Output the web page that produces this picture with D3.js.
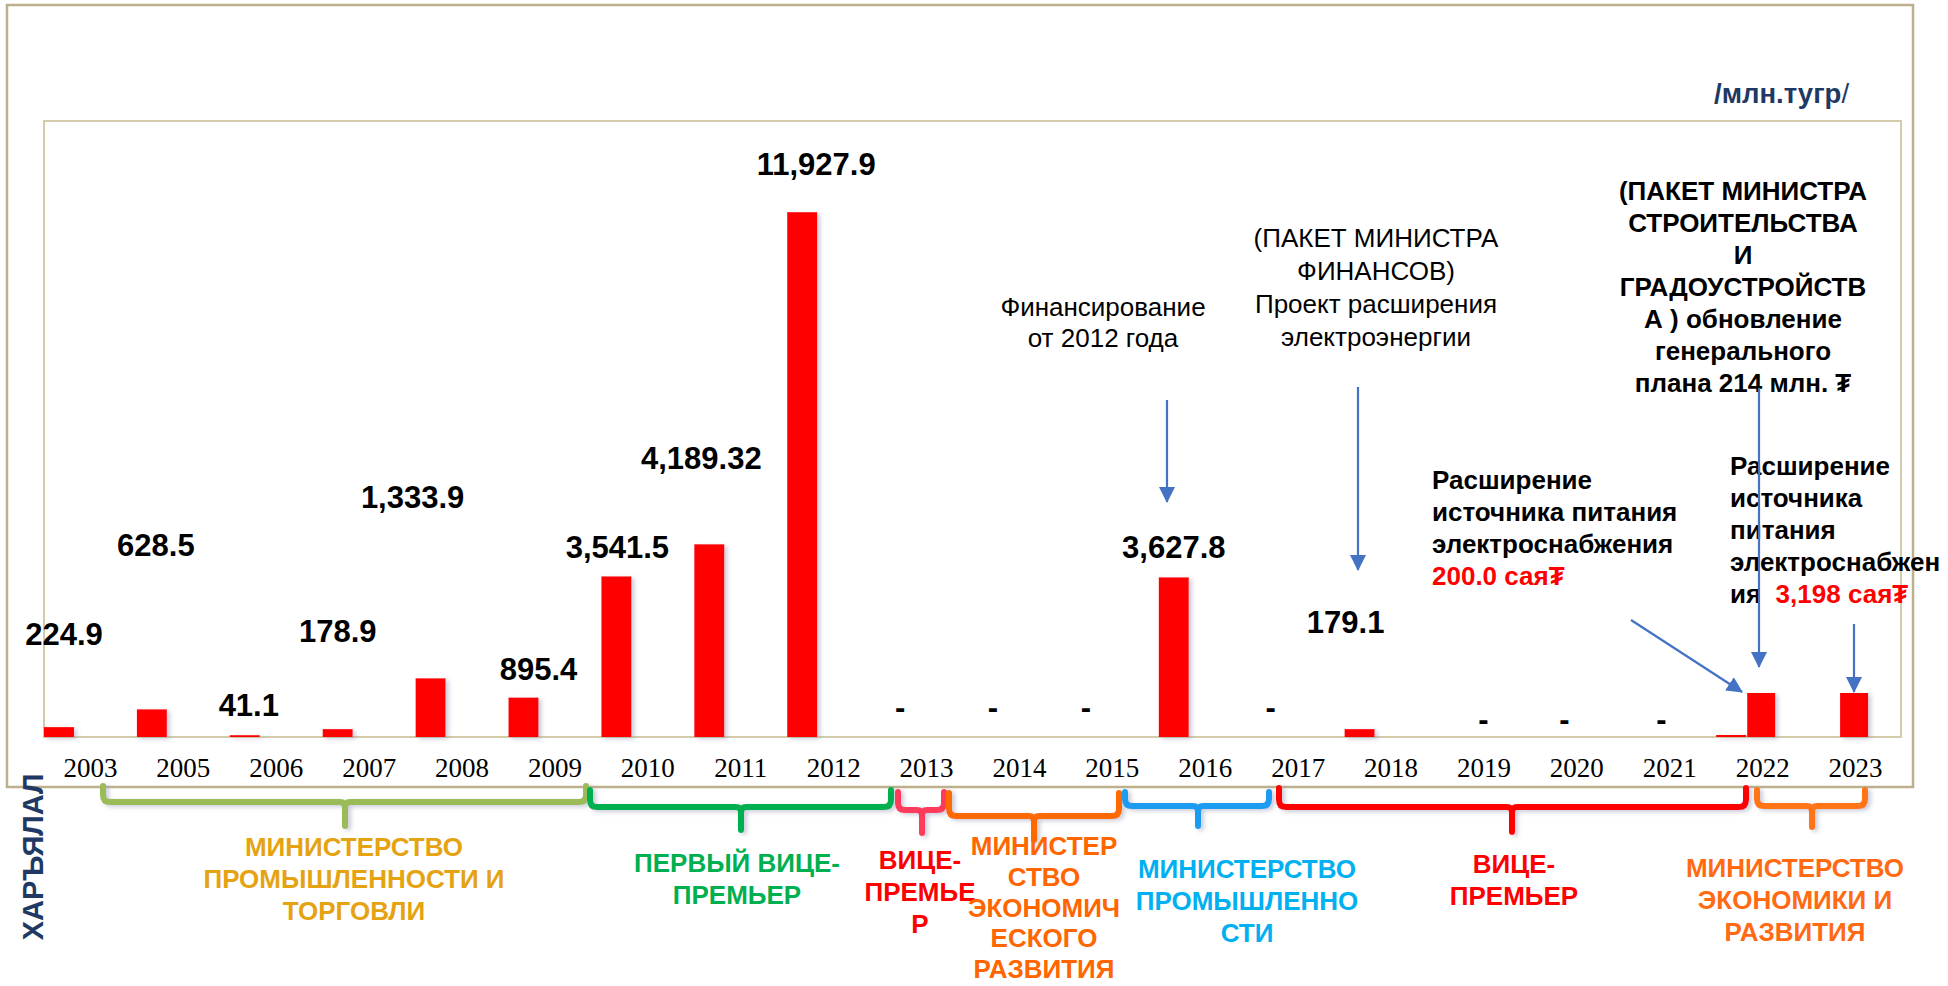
<!DOCTYPE html>
<html>
<head>
<meta charset="utf-8">
<script src="https://cdn.jsdelivr.net/npm/d3@7"></script>
<style>
  body { margin: 0; background: #fff; }
  text { font-family: "Liberation Sans", Arial, sans-serif; }
</style>
</head>
<body>
<div id="chart"></div>
<script>
// chart values
const years = ["2003", "2005", "2006", "2007", "2008", "2009", "2010", "2011", "2012", "2013",
               "2014", "2015", "2016", "2017", "2018", "2019", "2020", "2021", "2022", "2023"];
const values = [224.9, 628.5, 41.1, 178.9, 1333.9, 895.4, 3650, 4380, 11927.9, 0,
                0, 0, 3627.8, 0, 179.1, 0, 0, 0, 45, 0];
const valueLabels = ["224.9", "628.5", "41.1", "178.9", "1,333.9", "895.4", "3,541.5", "4,189.32", "11,927.9", "-",
                     "-", "-", "3,627.8", "-", "179.1", "-", "-", "-", "", ""];
// hand-marked bars for 2022 and 2023
const markedValues = [0, 0, 0, 0, 0, 0, 0, 0, 0, 0,
                      0, 0, 0, 0, 0, 0, 0, 0, 1000, 1000];

const groupNames = [
    ["МИНИСТЕРСТВО", "ПРОМЫШЛЕННОСТИ И", "ТОРГОВЛИ"],
    ["ПЕРВЫЙ ВИЦЕ-", "ПРЕМЬЕР"],
    ["ВИЦЕ-", "ПРЕМЬЕ", "Р"],
    ["МИНИСТЕР", "СТВО", "ЭКОНОМИЧ", "ЕСКОГО", "РАЗВИТИЯ"],
    ["МИНИСТЕРСТВО", "ПРОМЫШЛЕННО", "СТИ"],
    ["ВИЦЕ-", "ПРЕМЬЕР"],
    ["МИНИСТЕРСТВО", "ЭКОНОМИКИ И", "РАЗВИТИЯ"]
];

const width = 1948;
const height = 986;
const plot = { left: 44, top: 121, right: 1902, bottom: 737 };

// label nudges: [dx from bar centre, lift above bar top]
const labelNudge = [[5, 82], [4, 153], [4, 19], [0, 87], [-18, 170], [15, 18], [1, 18], [-8, 75], [14, 37], [5, 19],
                    [5, 19], [5, 19], [0, 19], [4, 19], [-14, 96], [31, 7], [19, 7], [23, 7], [0, 0], [0, 0]];

// brackets: x1, x2, end top, line y, tip x, tip y, colour, label x, first baseline, label colour, line step
const brackets = [
    [103, 586, 786, 802, 345, 826, "#9bbb59", 354, 856, "#e5a312", 32],
    [590, 891, 790, 807, 741, 830, "#00b050", 737, 872, "#00b050", 32],
    [898, 944, 792, 810, 922, 833, "#ff3b5c", 920, 869, "#ff0000", 32],
    [949, 1119, 793, 816, 1034, 840, "#ff6a00", 1044, 855, "#ff6600", 30.8],
    [1125, 1269, 792, 806, 1198, 826, "#1f9cf0", 1247, 878, "#00b0f0", 32],
    [1279, 1746, 788, 807, 1512, 832, "#ff0000", 1514, 873, "#ff0000", 32],
    [1757, 1865, 790, 806, 1812, 827, "#ff7518", 1795, 877, "#ff6a13", 32]
];

const svg = d3.select("#chart").append("svg")
    .attr("width", width)
    .attr("height", height);

const defs = svg.append("defs");
defs.append("filter").attr("id", "shadow")
    .attr("x", "-20%").attr("y", "-20%").attr("width", "160%").attr("height", "160%")
    .append("feDropShadow")
    .attr("dx", 3).attr("dy", 2).attr("stdDeviation", 2)
    .attr("flood-color", "#9a9ab8").attr("flood-opacity", 0.5);
defs.append("marker").attr("id", "head")
    .attr("viewBox", "0 0 16 16")
    .attr("refX", 15).attr("refY", 8)
    .attr("markerWidth", 16).attr("markerHeight", 16)
    .attr("markerUnits", "userSpaceOnUse")
    .attr("orient", "auto")
    .append("path").attr("d", "M0,0 L16,8 L0,16 z").attr("fill", "#4472c4");

// frames
svg.append("rect")
    .attr("x", 7).attr("y", 5).attr("width", 1906).attr("height", 782)
    .attr("fill", "none").attr("stroke", "#bdb08d").attr("stroke-width", 2.5);
svg.append("rect")
    .attr("x", plot.left).attr("y", plot.top)
    .attr("width", 1901 - plot.left).attr("height", plot.bottom - plot.top)
    .attr("fill", "none").attr("stroke", "#d4cba8").attr("stroke-width", 2);

const x = d3.scaleBand().domain(years).range([plot.left, plot.right]);
const xs = d3.scaleBand().domain(["main", "marked"]).range([0, 62]);
const y = d3.scaleLinear().domain([0, 14000]).range([plot.bottom, plot.top]);
const barW = 30;

const rows = years.map((yr, i) => ({ year: yr, value: values[i], marked: markedValues[i], label: valueLabels[i], nudge: labelNudge[i] }));

svg.append("g").attr("filter", "url(#shadow)")
    .selectAll("rect.main")
    .data(rows.filter(d => d.value > 0))
    .join("rect")
    .attr("x", d => x(d.year) + xs("main"))
    .attr("y", d => y(d.value))
    .attr("width", barW)
    .attr("height", d => y(0) - y(d.value))
    .attr("fill", "#ff0000");

svg.append("g").attr("filter", "url(#shadow)")
    .selectAll("rect.marked")
    .data(rows.filter(d => d.marked > 0))
    .join("rect")
    .attr("x", d => x(d.year) + xs("marked"))
    .attr("y", d => y(d.marked))
    .attr("width", barW - 2)
    .attr("height", d => y(0) - y(d.marked))
    .attr("fill", "#ff0000");

// value labels
svg.append("g")
    .selectAll("text")
    .data(rows.filter(d => d.label !== ""))
    .join("text")
    .attr("x", d => x(d.year) + xs("main") + barW / 2 + d.nudge[0])
    .attr("y", d => y(d.value) - d.nudge[1])
    .attr("text-anchor", "middle")
    .attr("font-size", 31)
    .attr("font-weight", "bold")
    .attr("fill", "#000")
    .text(d => d.label);

// year axis
const xAxis = svg.append("g")
    .attr("transform", `translate(0,${plot.bottom})`)
    .call(d3.axisBottom(x).tickSize(0).tickPadding(40));
xAxis.select(".domain").remove();
xAxis.selectAll("text")
    .style("font-family", "'Liberation Serif', 'Times New Roman', serif")
    .attr("font-size", 27)
    .attr("fill", "#000")
    .attr("dy", 0);

// unit label
const unit = svg.append("text")
    .attr("x", 1714).attr("y", 103)
    .attr("font-size", 27.5)
    .attr("fill", "#1f3864");
unit.append("tspan").attr("font-weight", "bold").text("/млн.тугр");
unit.append("tspan").text("/");

// vertical label
svg.append("text")
    .attr("transform", "translate(43,857) rotate(-90)")
    .attr("text-anchor", "middle")
    .attr("font-size", 29)
    .attr("font-weight", "bold")
    .attr("fill", "#1f3864")
    .text("ХАРЪЯЛАЛ");

function lines(parts, xPos, y0, lh, opts) {
    const t = svg.append("text")
        .attr("text-anchor", opts.anchor || "middle")
        .attr("font-size", opts.size)
        .attr("font-weight", opts.weight || "normal")
        .attr("fill", opts.color || "#000")
        .style("white-space", "pre");
    parts.forEach((p, i) => {
        const ts = t.append("tspan").attr("x", xPos).attr("y", y0 + i * lh);
        if (Array.isArray(p)) {
            p.forEach(seg => ts.append("tspan").attr("fill", seg[1]).text(seg[0]));
        } else {
            ts.text(p);
        }
    });
    return t;
}

// brackets
const br = svg.append("g").attr("filter", "url(#shadow)");
brackets.forEach(b => {
    const [x1, x2, top, ly, tx, ty, col] = b;
    const r = 7;
    const path = d3.path();
    path.moveTo(x1, top);
    path.lineTo(x1, ly - r);
    path.quadraticCurveTo(x1, ly, x1 + r, ly);
    path.lineTo(tx - 5, ly);
    path.quadraticCurveTo(tx, ly, tx, ly + 6);
    path.lineTo(tx, ty);
    path.moveTo(tx, ly + 6);
    path.quadraticCurveTo(tx, ly, tx + 5, ly);
    path.lineTo(x2 - r, ly);
    path.quadraticCurveTo(x2, ly, x2, ly - r);
    path.lineTo(x2, top);
    br.append("path")
        .attr("d", path.toString())
        .attr("fill", "none")
        .attr("stroke", col)
        .attr("stroke-width", 6)
        .attr("stroke-linecap", "round")
        .attr("stroke-linejoin", "round");
});
brackets.forEach((b, i) => {
    lines(groupNames[i], b[7], b[8], b[10], { size: 26, weight: "bold", color: b[9] });
});

// annotations
lines(["Финансирование", "от 2012 года"], 1103, 316, 31, { size: 26 });
lines(["(ПАКЕТ МИНИСТРА", "ФИНАНСОВ)", "Проект расширения", "электроэнергии"], 1376, 247, 33, { size: 26 });
lines(["(ПАКЕТ МИНИСТРА", "СТРОИТЕЛЬСТВА", "И", "ГРАДОУСТРОЙСТВ", "А ) обновление", "генерального", "плана 214 млн. ₮"],
      1743, 200, 32, { size: 26, weight: "bold" });
lines(["Расширение", "источника питания", "электроснабжения", [["200.0 сая₮", "#ff0000"]]],
      1432, 489, 32, { size: 26, weight: "bold", anchor: "start" });
lines(["Расширение", "источника", "питания", "электроснабжен", [["ия\u00a0\u00a0", "#000"], ["3,198 сая₮", "#ff0000"]]],
      1730, 475, 32, { size: 26, weight: "bold", anchor: "start" });

// arrows
const arrows = [
    [1167, 400, 1167, 502],
    [1358, 387, 1358, 570],
    [1631, 620, 1742, 692],
    [1759, 388, 1759, 667],
    [1854, 624, 1854, 692]
];
svg.append("g").selectAll("line")
    .data(arrows)
    .join("line")
    .attr("x1", d => d[0]).attr("y1", d => d[1])
    .attr("x2", d => d[2]).attr("y2", d => d[3])
    .attr("stroke", "#4472c4")
    .attr("stroke-width", 2.2)
    .attr("marker-end", "url(#head)");
</script>
</body>
</html>
